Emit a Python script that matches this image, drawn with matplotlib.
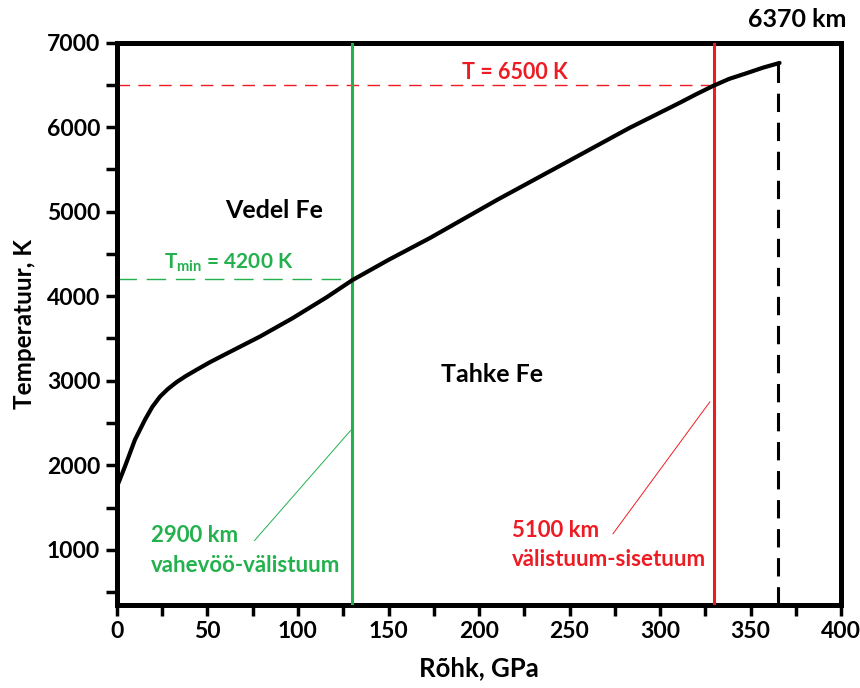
import matplotlib
matplotlib.use("Agg")
import matplotlib.pyplot as plt

plt.rcParams['font.family'] = ['Lato', 'DejaVu Sans']
plt.rcParams['mathtext.fontset'] = 'custom'
plt.rcParams['mathtext.rm'] = 'Lato:bold'
plt.rcParams['mathtext.default'] = 'rm'

# melting curve of iron
pressure = [0, 1, 4.4, 9.9, 15.5, 19.5, 23.8, 28, 33, 38, 44, 51.4, 61, 79, 97, 116, 130,
            150, 173, 210, 247, 283, 311, 320, 329, 338, 348, 357, 366]
temperature = [1750, 1800, 1985, 2300, 2540, 2690, 2813, 2900, 2985, 3055, 3130, 3220, 3326,
               3523, 3740, 3990, 4190, 4430, 4690, 5140, 5570, 5990, 6290, 6390, 6485, 6570,
               6640, 6705, 6760]

x_ticks = [0, 50, 100, 150, 200, 250, 300, 350, 400]
y_ticks = [1000, 2000, 3000, 4000, 5000, 6000, 7000]

cmb_pressure = 130      # 2900 km
icb_pressure = 330      # 5100 km
center_pressure = 365   # 6370 km
t_min = 4200
t_icb = 6500

GREEN = '#22b14c'
RED = '#ed1c24'

fig = plt.figure(figsize=(8.6, 6.88), dpi=100)
ax = fig.add_axes([0.136, 0.121, 0.842, 0.817])
ax.set_xlim(0, 400)
ax.set_ylim(350, 7000)

ax.plot(pressure, temperature, color='black', lw=3.0, solid_capstyle='round',
        solid_joinstyle='round', zorder=5)

ax.axvline(cmb_pressure, color=GREEN, lw=2.2, zorder=3)
ax.axvline(icb_pressure, color=RED, lw=2.2, zorder=3)
ax.plot([center_pressure, center_pressure], [350, 6850], color='black', lw=2.2,
        dashes=(6, 3.5), zorder=3)
ax.plot([0, cmb_pressure], [t_min, t_min], color=GREEN, lw=1.0, dashes=(14, 7), zorder=2)
ax.plot([0, icb_pressure], [t_icb, t_icb], color=RED, lw=1.0, dashes=(9, 6), zorder=2)

# thin pointer lines
ax.plot([76, 129], [1110, 2410], color=GREEN, lw=0.7)
ax.plot([274, 327.5], [1190, 2750], color=RED, lw=0.7)

ax.text(87, 5020, 'Vedel Fe', fontsize=18, fontweight='bold', ha='center', va='center')
ax.text(207, 3070, 'Tahke Fe', fontsize=18, fontweight='bold', ha='center', va='center')
ax.text(62, 4400, r'T$_{\mathrm{min}}$ = 4200 K', fontsize=15, fontweight='bold',
        color=GREEN, ha='center', va='center')
ax.text(220, 6650, 'T = 6500 K', fontsize=15.5, fontweight='bold', color=RED,
        ha='center', va='center')
ax.text(19, 1170, '2900 km', fontsize=16, fontweight='bold', color=GREEN, ha='left', va='center')
ax.text(19, 820, 'vahevöö-välistuum', fontsize=16, fontweight='bold', color=GREEN,
        ha='left', va='center')
ax.text(218, 1230, '5100 km', fontsize=16, fontweight='bold', color=RED, ha='left', va='center')
ax.text(218, 880, 'välistuum-sisetuum', fontsize=16, fontweight='bold', color=RED,
        ha='left', va='center')
ax.text(376, 7270, '6370 km', fontsize=18, fontweight='bold', ha='center', va='center',
        clip_on=False)

for s in ax.spines.values():
    s.set_linewidth(3.6)
    s.set_capstyle('projecting')

ax.set_xticks(x_ticks)
ax.set_yticks(y_ticks)
ax.set_xticks([25, 75, 125, 175, 225, 275, 325, 375], minor=True)
ax.set_yticks([500, 1500, 2500, 3500, 4500, 5500, 6500], minor=True)
ax.tick_params(which='both', direction='out', length=8, width=2.5)
ax.tick_params(axis='both', which='major', labelsize=16.5, pad=4)
for lab in ax.get_xticklabels() + ax.get_yticklabels():
    lab.set_fontweight('bold')

ax.set_xlabel('Rõhk, GPa', fontsize=18.5, fontweight='bold', labelpad=10)
ax.set_ylabel('Temperatuur, K', fontsize=17.5, fontweight='bold', labelpad=8)

fig.savefig('out.png', dpi=100)
